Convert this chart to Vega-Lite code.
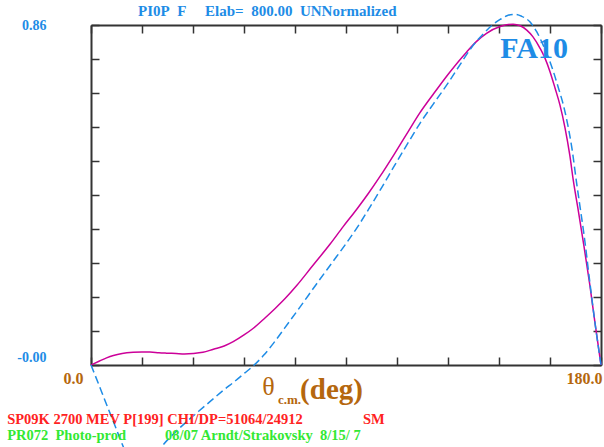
{
  "$schema": "https://vega.github.io/schema/vega-lite/v6.json",
  "width": 510,
  "height": 340,
  "autosize": {"type": "none"},
  "padding": {"left": 91, "top": 25, "right": 3, "bottom": 82},
  "background": "white",
  "config": {"view": {"stroke": null}, "font": "Liberation Serif"},
  "title": {
    "text": "PI0P\u00a0\u00a0F\u00a0\u00a0\u00a0\u00a0\u00a0Elab=\u00a0\u00a0800.00\u00a0\u00a0UNNormalized",
    "anchor": "start",
    "frame": "group",
    "dx": 47,
    "dy": 13,
    "offset": 5,
    "font": "Liberation Serif",
    "fontSize": 15,
    "fontWeight": "bold",
    "color": "#1E8CE6"
  },
  "datasets": {
    "curves": [
      {"series": "SM", "theta": 0, "value": 0},
      {"series": "SM", "theta": 3, "value": 0.010},
      {"series": "SM", "theta": 5.5, "value": 0.018},
      {"series": "SM", "theta": 7.9, "value": 0.024},
      {"series": "SM", "theta": 11, "value": 0.029},
      {"series": "SM", "theta": 14.9, "value": 0.032},
      {"series": "SM", "theta": 18, "value": 0.033},
      {"series": "SM", "theta": 20.8, "value": 0.033},
      {"series": "SM", "theta": 24, "value": 0.031},
      {"series": "SM", "theta": 26.7, "value": 0.030},
      {"series": "SM", "theta": 30, "value": 0.029},
      {"series": "SM", "theta": 33, "value": 0.028},
      {"series": "SM", "theta": 36.1, "value": 0.029},
      {"series": "SM", "theta": 39.5, "value": 0.032},
      {"series": "SM", "theta": 43.2, "value": 0.040},
      {"series": "SM", "theta": 47, "value": 0.048},
      {"series": "SM", "theta": 50.2, "value": 0.059},
      {"series": "SM", "theta": 54, "value": 0.076},
      {"series": "SM", "theta": 57.3, "value": 0.093},
      {"series": "SM", "theta": 61.4, "value": 0.119},
      {"series": "SM", "theta": 65, "value": 0.143},
      {"series": "SM", "theta": 68.5, "value": 0.168},
      {"series": "SM", "theta": 72.6, "value": 0.201},
      {"series": "SM", "theta": 78, "value": 0.249},
      {"series": "SM", "theta": 84.4, "value": 0.306},
      {"series": "SM", "theta": 89, "value": 0.350},
      {"series": "SM", "theta": 93.8, "value": 0.394},
      {"series": "SM", "theta": 98, "value": 0.435},
      {"series": "SM", "theta": 102, "value": 0.477},
      {"series": "SM", "theta": 107, "value": 0.533},
      {"series": "SM", "theta": 112, "value": 0.591},
      {"series": "SM", "theta": 116, "value": 0.637},
      {"series": "SM", "theta": 120.8, "value": 0.685},
      {"series": "SM", "theta": 126, "value": 0.735},
      {"series": "SM", "theta": 132.6, "value": 0.792},
      {"series": "SM", "theta": 136, "value": 0.818},
      {"series": "SM", "theta": 139.6, "value": 0.839},
      {"series": "SM", "theta": 144.4, "value": 0.856},
      {"series": "SM", "theta": 149, "value": 0.862},
      {"series": "SM", "theta": 151.5, "value": 0.858},
      {"series": "SM", "theta": 153.8, "value": 0.847},
      {"series": "SM", "theta": 156, "value": 0.830},
      {"series": "SM", "theta": 158.5, "value": 0.801},
      {"series": "SM", "theta": 160.3, "value": 0.775},
      {"series": "SM", "theta": 162, "value": 0.742},
      {"series": "SM", "theta": 163.8, "value": 0.700},
      {"series": "SM", "theta": 165.5, "value": 0.658},
      {"series": "SM", "theta": 167.3, "value": 0.600},
      {"series": "SM", "theta": 169, "value": 0.530},
      {"series": "SM", "theta": 170.2, "value": 0.468},
      {"series": "SM", "theta": 172, "value": 0.390},
      {"series": "SM", "theta": 174, "value": 0.300},
      {"series": "SM", "theta": 176, "value": 0.205},
      {"series": "SM", "theta": 178, "value": 0.100},
      {"series": "SM", "theta": 180, "value": 0},
      {"series": "FA10", "theta": 0, "value": 0},
      {"series": "FA10", "theta": 2.5, "value": -0.045},
      {"series": "FA10", "theta": 4.9, "value": -0.089},
      {"series": "FA10", "theta": 8, "value": -0.145},
      {"series": "FA10", "theta": 11.4, "value": -0.207},
      {"series": "FA10", "theta": 14, "value": -0.250},
      {"series": "FA10", "theta": 17, "value": -0.270},
      {"series": "FA10", "theta": 20.5, "value": -0.255},
      {"series": "FA10", "theta": 24.9, "value": -0.207},
      {"series": "FA10", "theta": 29, "value": -0.175},
      {"series": "FA10", "theta": 33.2, "value": -0.147},
      {"series": "FA10", "theta": 38, "value": -0.117},
      {"series": "FA10", "theta": 42.6, "value": -0.089},
      {"series": "FA10", "theta": 46.7, "value": -0.064},
      {"series": "FA10", "theta": 50.8, "value": -0.041},
      {"series": "FA10", "theta": 54.3, "value": -0.020},
      {"series": "FA10", "theta": 57.6, "value": 0},
      {"series": "FA10", "theta": 61, "value": 0.025},
      {"series": "FA10", "theta": 64.5, "value": 0.056},
      {"series": "FA10", "theta": 68.2, "value": 0.092},
      {"series": "FA10", "theta": 74, "value": 0.149},
      {"series": "FA10", "theta": 79.6, "value": 0.205},
      {"series": "FA10", "theta": 85, "value": 0.258},
      {"series": "FA10", "theta": 90.2, "value": 0.309},
      {"series": "FA10", "theta": 94.5, "value": 0.354},
      {"series": "FA10", "theta": 98.5, "value": 0.400},
      {"series": "FA10", "theta": 102.7, "value": 0.450},
      {"series": "FA10", "theta": 107, "value": 0.503},
      {"series": "FA10", "theta": 112, "value": 0.563},
      {"series": "FA10", "theta": 116, "value": 0.610},
      {"series": "FA10", "theta": 120.8, "value": 0.660},
      {"series": "FA10", "theta": 126, "value": 0.713},
      {"series": "FA10", "theta": 130.2, "value": 0.759},
      {"series": "FA10", "theta": 134, "value": 0.800},
      {"series": "FA10", "theta": 138.5, "value": 0.838},
      {"series": "FA10", "theta": 141.5, "value": 0.859},
      {"series": "FA10", "theta": 144.4, "value": 0.874},
      {"series": "FA10", "theta": 147, "value": 0.884},
      {"series": "FA10", "theta": 149.6, "value": 0.887},
      {"series": "FA10", "theta": 152, "value": 0.882},
      {"series": "FA10", "theta": 154.9, "value": 0.868},
      {"series": "FA10", "theta": 157.3, "value": 0.843},
      {"series": "FA10", "theta": 159.6, "value": 0.809},
      {"series": "FA10", "theta": 161.5, "value": 0.777},
      {"series": "FA10", "theta": 163.2, "value": 0.742},
      {"series": "FA10", "theta": 165, "value": 0.700},
      {"series": "FA10", "theta": 166.7, "value": 0.658},
      {"series": "FA10", "theta": 168.2, "value": 0.610},
      {"series": "FA10", "theta": 169.7, "value": 0.550},
      {"series": "FA10", "theta": 171.4, "value": 0.460},
      {"series": "FA10", "theta": 172.5, "value": 0.405},
      {"series": "FA10", "theta": 174, "value": 0.330},
      {"series": "FA10", "theta": 176.1, "value": 0.207},
      {"series": "FA10", "theta": 178, "value": 0.100},
      {"series": "FA10", "theta": 180, "value": 0}
    ]
  },
  "resolve": {"axis": {"x": "independent", "y": "independent"}},
  "layer": [
    {
      "data": {"name": "curves"},
      "transform": [{"filter": "datum.series == 'SM'"}],
      "mark": {"type": "line", "color": "#CC0099", "strokeWidth": 1.5, "interpolate": "monotone", "clip": false},
      "encoding": {
        "x": {
          "field": "theta", "type": "quantitative",
          "scale": {"domain": [0, 180], "nice": false, "zero": false},
          "axis": {
            "orient": "bottom", "title": null, "grid": false,
            "values": [0, 18, 36, 54, 72, 90, 108, 126, 144, 162, 180],
            "labelExpr": "datum.value == 0 ? '0.0' : (datum.value == 180 ? '180.0' : '')",
            "tickSize": -8, "tickWidth": 1.5, "tickColor": "#333333",
            "domainColor": "#333333", "domainWidth": 2,
            "labelFont": "Liberation Serif", "labelFontWeight": "bold", "labelFontSize": 16,
            "labelColor": "#B5670E", "labelPadding": 13, "labelAlign": "right",
            "labelFlush": false, "labelOverlap": false,
            "labelOffset": {"condition": {"test": "datum.value == 0", "value": -8}, "value": 1}
          }
        },
        "y": {
          "field": "value", "type": "quantitative",
          "scale": {"domain": [0, 0.86], "nice": false, "zero": false},
          "axis": {
            "orient": "left", "title": null, "grid": false,
            "values": [0, 0.086, 0.172, 0.258, 0.344, 0.43, 0.516, 0.602, 0.688, 0.774, 0.86],
            "labelExpr": "datum.value == 0 ? '-0.00' : (datum.value > 0.85 ? '0.86' : '')",
            "tickSize": -8, "tickWidth": 1.5, "tickColor": "#333333",
            "domainColor": "#333333", "domainWidth": 2,
            "labelFont": "Liberation Serif", "labelFontWeight": "bold", "labelFontSize": 14,
            "labelColor": "#1E8CE6", "labelPadding": 53, "labelAlign": "right",
            "labelBaseline": "middle", "labelFlush": false, "labelOverlap": false,
            "labelOffset": {"condition": {"test": "datum.value == 0", "value": -8}, "value": 0}
          }
        }
      }
    },
    {
      "data": {"name": "curves"},
      "transform": [{"filter": "datum.series == 'FA10'"}],
      "mark": {"type": "line", "color": "#1E8CE6", "strokeWidth": 1.5, "strokeDash": [8, 4], "interpolate": "monotone", "clip": false},
      "encoding": {
        "x": {
          "field": "theta", "type": "quantitative",
          "scale": {"domain": [0, 180], "nice": false, "zero": false},
          "axis": {
            "orient": "top", "title": null, "grid": false, "labels": false,
            "values": [0, 18, 36, 54, 72, 90, 108, 126, 144, 162, 180],
            "tickSize": -8, "tickWidth": 1.5, "tickColor": "#333333",
            "domainColor": "#333333", "domainWidth": 2
          }
        },
        "y": {
          "field": "value", "type": "quantitative",
          "scale": {"domain": [0, 0.86], "nice": false, "zero": false},
          "axis": {
            "orient": "right", "title": null, "grid": false, "labels": false,
            "values": [0, 0.086, 0.172, 0.258, 0.344, 0.43, 0.516, 0.602, 0.688, 0.774, 0.86],
            "tickSize": -8, "tickWidth": 1.5, "tickColor": "#333333",
            "domainColor": "#333333", "domainWidth": 2
          }
        }
      }
    },
    {
      "data": {"values": [{"theta": 144.4, "value": 0.80, "label": "FA10"}]},
      "mark": {"type": "text", "align": "left", "baseline": "middle", "font": "Liberation Serif", "fontSize": 30, "fontWeight": "bold", "color": "#1E8CE6"},
      "encoding": {
        "x": {"field": "theta", "type": "quantitative", "scale": {"domain": [0, 180], "nice": false, "zero": false}, "axis": null},
        "y": {"field": "value", "type": "quantitative", "scale": {"domain": [0, 0.86], "nice": false, "zero": false}, "axis": null},
        "text": {"field": "label"}
      }
    },
    {
      "data": {"values": [{"theta": 60.4, "value": -0.0556, "label": "θ"}]},
      "mark": {"type": "text", "align": "left", "baseline": "middle", "font": "Liberation Serif", "fontSize": 26, "fontWeight": "normal", "color": "#B5670E"},
      "encoding": {
        "x": {"field": "theta", "type": "quantitative", "scale": {"domain": [0, 180], "nice": false, "zero": false}, "axis": null},
        "y": {"field": "value", "type": "quantitative", "scale": {"domain": [0, 0.86], "nice": false, "zero": false}, "axis": null},
        "text": {"field": "label"}
      }
    },
    {
      "data": {"values": [{"theta": 66.0, "value": -0.0885, "label": "c.m."}]},
      "mark": {"type": "text", "align": "left", "baseline": "middle", "font": "Liberation Serif", "fontSize": 13, "fontWeight": "bold", "color": "#B5670E"},
      "encoding": {
        "x": {"field": "theta", "type": "quantitative", "scale": {"domain": [0, 180], "nice": false, "zero": false}, "axis": null},
        "y": {"field": "value", "type": "quantitative", "scale": {"domain": [0, 0.86], "nice": false, "zero": false}, "axis": null},
        "text": {"field": "label"}
      }
    },
    {
      "data": {"values": [{"theta": 73.8, "value": -0.062, "label": "(deg)"}]},
      "mark": {"type": "text", "align": "left", "baseline": "middle", "font": "Liberation Serif", "fontSize": 29, "fontWeight": "bold", "color": "#B5670E"},
      "encoding": {
        "x": {"field": "theta", "type": "quantitative", "scale": {"domain": [0, 180], "nice": false, "zero": false}, "axis": null},
        "y": {"field": "value", "type": "quantitative", "scale": {"domain": [0, 0.86], "nice": false, "zero": false}, "axis": null},
        "text": {"field": "label"}
      }
    },
    {
      "data": {"values": [
        {"theta": -29.6, "value": -0.139, "label": "SP09K 2700 MEV P[199] CHI/DP=51064/24912"},
        {"theta": 96.0, "value": -0.139, "label": "SM"}
      ]},
      "mark": {"type": "text", "align": "left", "baseline": "middle", "font": "Liberation Serif", "fontSize": 14.5, "fontWeight": "bold", "color": "#FF2222"},
      "encoding": {
        "x": {"field": "theta", "type": "quantitative", "scale": {"domain": [0, 180], "nice": false, "zero": false}, "axis": null},
        "y": {"field": "value", "type": "quantitative", "scale": {"domain": [0, 0.86], "nice": false, "zero": false}, "axis": null},
        "text": {"field": "label"}
      }
    },
    {
      "data": {"values": [
        {"theta": -29.6, "value": -0.180, "label": "PR072\u00a0\u00a0Photo-prod"},
        {"theta": 26.1, "value": -0.180, "label": "08/07 Arndt/Strakovsky\u00a0\u00a08/15/\u00a07"}
      ]},
      "mark": {"type": "text", "align": "left", "baseline": "middle", "font": "Liberation Serif", "fontSize": 14.5, "fontWeight": "bold", "color": "#33E833"},
      "encoding": {
        "x": {"field": "theta", "type": "quantitative", "scale": {"domain": [0, 180], "nice": false, "zero": false}, "axis": null},
        "y": {"field": "value", "type": "quantitative", "scale": {"domain": [0, 0.86], "nice": false, "zero": false}, "axis": null},
        "text": {"field": "label"}
      }
    }
  ]
}
